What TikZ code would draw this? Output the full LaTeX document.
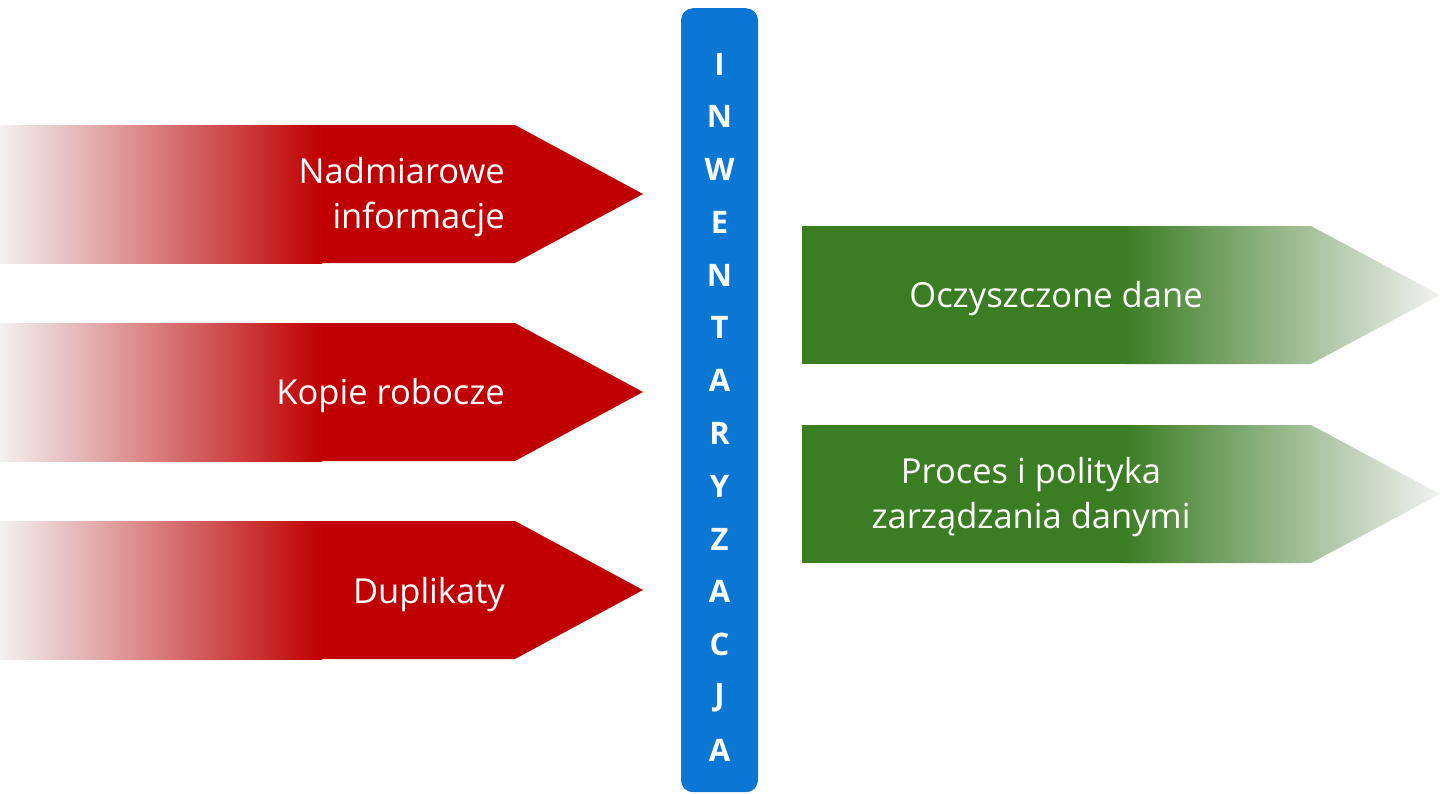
\documentclass[tikz,border=0pt]{standalone}
\usepackage{fontspec}
\setmainfont{Open Sans}
\definecolor{redA}{HTML}{C00000}
\definecolor{greenA}{HTML}{3B7D23}
\definecolor{blueA}{HTML}{0A77D5}
\definecolor{fadeA}{HTML}{F2F2F2}
\tikzset{
  lbl/.style={text=white, font=\fontsize{34.5}{45}\selectfont, inner sep=0pt},
  letter/.style={text=white, font=\fontsize{31}{36}\selectfont\bfseries, inner sep=0pt},
}
\begin{document}
\begin{tikzpicture}[x=1pt,y=-1pt]
\useasboundingbox (0,0) rectangle (1440,793);
% red arrows
\foreach \t in {125,323,521}{
  \fill[redA] (0,\t) -- (515,\t) -- (643,\t+69) -- (515,\t+138) -- (0,\t+138) -- cycle;
  \shade[left color=fadeA, right color=redA] (0,\t) rectangle (322,\t+138);
}
% green arrows
\foreach \t in {226,425}{
  \begin{scope}
    \clip (802,\t) -- (1311,\t) -- (1440,\t+69) -- (1311,\t+138) -- (802,\t+138) -- cycle;
    \fill[greenA] (802,\t) rectangle (1125,\t+138);
    \shade[left color=greenA, right color=fadeA] (1124,\t) rectangle (1440,\t+138);
  \end{scope}
}
% blue bar
\node[fill=blueA, rounded corners=12pt, minimum width=77pt, minimum height=784pt, inner sep=0pt, anchor=north] (bar) at (719.5,8) {};
\foreach \l [count=\i] in {I,N,W,E,N,T,A,R,Y,Z,A,C,J,A}{
  \node[letter] (l\i) at (719.5,{64+52.77*(\i-1)}) {\l};
}
% texts
\node[lbl, align=right, anchor=east] (t1) at (505,197) {Nadmiarowe\\informacje};
\node[lbl, anchor=east] (t2) at (505,396) {Kopie robocze};
\node[lbl, anchor=east] (t3) at (505,595) {Duplikaty};
\node[lbl] (t4) at (1056,299) {Oczyszczone dane};
\node[lbl, align=center] (t5) at (1031,497) {Proces i polityka\\zarządzania danymi};
\end{tikzpicture}
\end{document}
